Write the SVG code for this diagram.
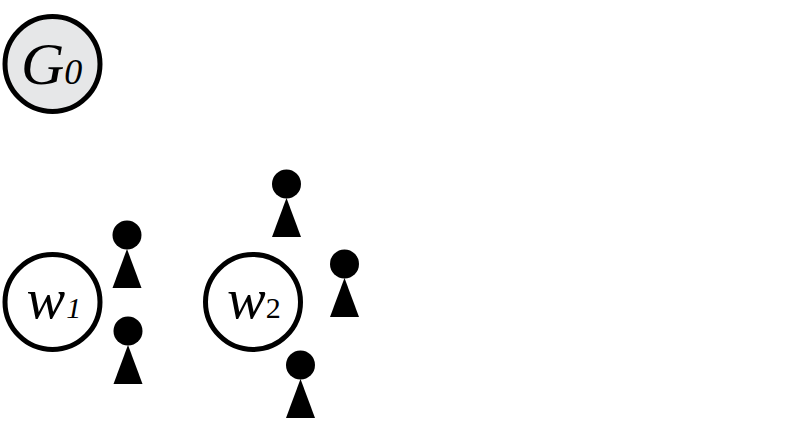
<svg xmlns="http://www.w3.org/2000/svg" width="800" height="430" viewBox="0 0 800 430">
<defs>
<g id="person"><circle cx="0" cy="0" r="14.500" fill="#000"/><polygon points="0,14 14.500,53 -14.500,53" fill="#000"/></g>
</defs>
<style>
.ring{stroke:#000;stroke-width:5;fill:#fff}
.big{font-family:"Liberation Serif",serif;font-style:italic;fill:#000}
</style>
<rect width="800" height="430" fill="#fff"/>
<g id="G0"><circle class="ring" cx="52.500" cy="64" r="47.500" style="fill:#e6e7e8"/><text class="big" x="21" y="83.500" font-size="60">G<tspan font-size="36">0</tspan></text></g>
<g id="w1"><circle class="ring" cx="52.500" cy="302" r="47.500"/><text class="big" x="26.500" y="318" font-size="58">w<tspan font-size="30" dx="1">1</tspan></text></g>
<g id="w2"><circle class="ring" cx="253" cy="302" r="47.500"/><text class="big" x="227" y="318" font-size="58">w<tspan font-size="30" font-style="normal">2</tspan></text></g>
<g id="p1"><use href="#person" x="127" y="235"/></g>
<g id="p2"><use href="#person" x="128" y="331"/></g>
<g id="p3"><use href="#person" x="286.500" y="184"/></g>
<g id="p4"><use href="#person" x="344.500" y="264"/></g>
<g id="p5"><use href="#person" x="300.500" y="365"/></g>
<g id="connectors"></g>
</svg>
